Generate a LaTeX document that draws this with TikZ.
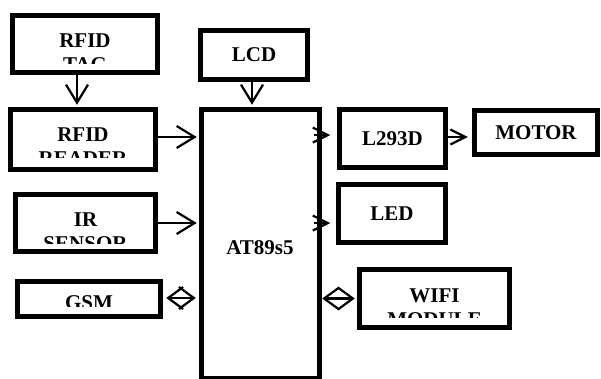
\documentclass[tikz,border=0pt]{standalone}
\usepackage{fontspec}
\setmainfont{Liberation Serif}
\usetikzlibrary{positioning, calc, arrows.meta}

\begin{document}
\begin{tikzpicture}[
            x=1pt, y=-1pt,
            block/.style={rectangle, draw, line width=5.5pt, inner sep=0pt, font=\bfseries\fontsize{21}{24}\selectfont},
            word/.style={inner sep=0pt, align=center, anchor=base, font=\bfseries\fontsize{21}{24}\selectfont},
            link/.style={-{Straight Barb[length=18pt, width=22pt]}, line width=2.2pt},
            shortlink/.style={-{Straight Barb[length=15pt, width=15pt]}, line width=2.2pt},
            bothway/.style={{Straight Barb[length=15pt, width=22pt]}-{Straight Barb[length=15pt, width=22pt]}, line width=2.2pt}
        ]
            \useasboundingbox (0,0) rectangle (601,378);

            % --- 1. blocks ---
            \node[block, minimum width=145pt, minimum height=57pt] (tag) at (85,44) {};
            \node[block, minimum width=145pt, minimum height=60pt] (reader) at (83,139.5) {};
            \node[block, minimum width=140pt, minimum height=57pt] (ir) at (85.5,223) {};
            \node[block, minimum width=143pt, minimum height=35pt] (gsm) at (89,299) {};
            \node[block, minimum width=107pt, minimum height=49pt] (lcd) at (254,55) {LCD};
            \node[block, minimum width=118pt, minimum height=269pt] (mcu) at (260.5,244) {};
            \node[word] (mcutxt) at (260,254) {AT89s5};
            \node[block, minimum width=106pt, minimum height=58pt] (driver) at (392.5,138.5) {L293D};
            \node[block, minimum width=123pt, minimum height=44pt] (motor) at (536,132.5) {MOTOR};
            \node[block, minimum width=107pt, minimum height=58pt] (led) at (392,213.5) {LED};
            \node[block, minimum width=150pt, minimum height=58pt] (wifi) at (434.5,298.5) {};

            % --- 2. texts cut off at the bottom of their boxes ---
            \begin{scope}
              \clip (12,15) rectangle (158,63);
              \node[word] (tagtxt) at (85,71) {RFID\\TAG};
            \end{scope}
            \begin{scope}
              \clip (10,109) rectangle (156,157);
              \node[word] (readertxt) at (83,165) {RFID\\READER};
            \end{scope}
            \begin{scope}
              \clip (15,194) rectangle (156,243);
              \node[word] (irtxt) at (85.5,250) {IR\\SENSOR};
            \end{scope}
            \begin{scope}
              \clip (17,281) rectangle (161,306);
              \node[word] (gsmtxt) at (89,309) {GSM};
            \end{scope}
            \begin{scope}
              \clip (359,269) rectangle (510,317);
              \node[word] (wifitxt) at (434.5,326) {WIFI\\MODULE};
            \end{scope}

            % --- 3. links ---
            \draw[link, shorten >=2pt] ([xshift=-8pt]tag.south) -- ([xshift=-6pt]reader.north);
            \draw[link, shorten >=2pt] ([xshift=-2pt]lcd.south) -- ($(lcd.south |- mcu.north)+(-2,0)$);
            \draw[link, shorten >=2pt] ($(reader.east)+(0,-2.5)$) -- ($(reader.east -| mcu.west)+(0,-2.5)$);
            \draw[link, shorten >=2pt] (ir.east) -- (ir.east -| mcu.west);
            \draw[bothway, shorten <=3pt, shorten >=3pt] ($(gsm.east)+(0,-1)$) -- ($(gsm.east -| mcu.west)+(0,-1)$);
            \draw[shortlink, shorten >=6.5pt] ($(mcu.east |- driver.west)+(-8,-3.5)$) -- ($(driver.west)+(0,-3.5)$);
            \draw[shortlink, shorten >=5.5pt] ($(mcu.east |- led.west)+(-8,9.5)$) -- ($(led.west)+(0,9.5)$);
            \draw[shortlink, shorten >=4pt] ($(driver.east)+(0,-1.5)$) -- ($(driver.east -| motor.west)+(0,-1.5)$);
            \draw[bothway, shorten >=2pt] ($(mcu.east |- wifi.west)$) -- (wifi.west);

        \end{tikzpicture}
\end{document}
